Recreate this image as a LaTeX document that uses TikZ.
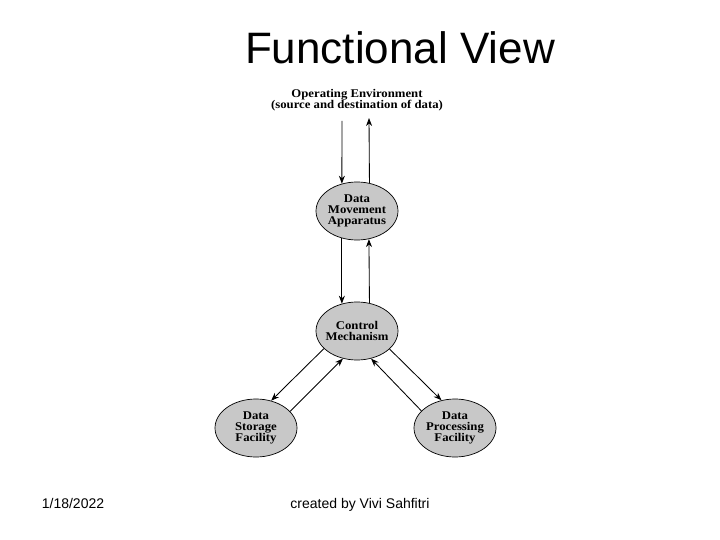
\documentclass[tikz,border=0pt]{standalone}
\usepackage{fontspec}
\setmainfont{Liberation Serif}
\newfontfamily\arialfont{Liberation Sans}
\newfontfamily\wideserif[FakeStretch=1.08]{Liberation Serif}
\usetikzlibrary{shapes.geometric,arrows.meta}
\definecolor{ellgray}{RGB}{200,200,200}
\begin{document}
\begin{tikzpicture}[x=1pt,y=-1pt,
  labelfont/.style={font=\wideserif\fontsize{11.8}{11}\selectfont\bfseries},
  unit/.style={ellipse,draw=black,line width=0.7pt,fill=ellgray,minimum width=82pt,minimum height=58pt,inner xsep=-5pt,inner ysep=0pt,align=center,labelfont},
  flow/.style={line width=0.85pt,-{Stealth[length=8pt,width=6pt]}},
  footer/.style={font=\arialfont\fontsize{14}{16}\selectfont,anchor=base,inner sep=0pt}]
\useasboundingbox (0,0) rectangle (720,540);
\node[font=\arialfont\fontsize{44}{48}\selectfont,anchor=base,inner sep=0pt] (title) at (400,64) {Functional View};
\node[labelfont,align=center,inner sep=0pt] (env) at (357,100) {Operating Environment\\(source and destination of data)};
\node[unit] (dma) at (357,211) {Data\\Movement\\Apparatus};
\node[unit] (cm) at (357,331) {Control\\Mechanism};
\node[unit] (dsf) at (256,428) {Data\\Storage\\Facility};
\node[unit] (dpf) at (455,428) {Data\\Processing\\Facility};
\coordinate (envin) at (342,121);
\coordinate (envout) at (369,118);
\draw[flow] (envin) -- (dma.119);
\draw[flow] (dma.66.6) -- (envout);
\draw[flow] (dma.241) -- (cm.119);
\draw[flow] (cm.66.6) -- (dma.293.4);
\draw[flow] (cm.208.5) -- (dsf.61);
\draw[flow] (dsf.26.6) -- (cm.243);
\draw[flow] (cm.331.5) -- (dpf.116);
\draw[flow] (dpf.153.4) -- (cm.297);
\node[footer] (date) at (73,508) {1/18/2022};
\node[footer] (author) at (360,508) {created by Vivi Sahfitri};
\end{tikzpicture}
\end{document}
